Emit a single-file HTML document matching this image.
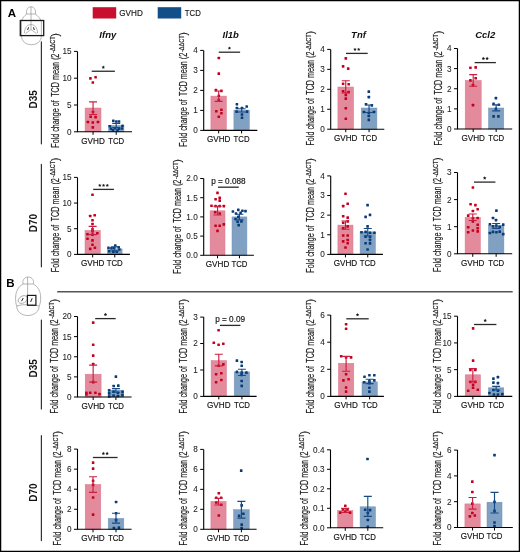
<!DOCTYPE html><html><head><meta charset="utf-8"><style>html,body{margin:0;padding:0;background:#fff}svg{display:block;will-change:transform}text{font-family:"Liberation Sans",sans-serif}.tk{font-size:8.2px;fill:#1a1a1a;stroke:#1a1a1a;stroke-width:0.06px}.xl{font-size:8.8px;fill:#111;stroke:#111;stroke-width:0.15px}.yl{font-size:10px;fill:#1a1a1a;stroke:#1a1a1a;stroke-width:0.18px}.sup{font-size:6.8px}.st{font-size:9.5px;fill:#222;stroke:#222;stroke-width:0.2px}.pv{font-size:8.2px;fill:#111;stroke:#111;stroke-width:0.15px}.ti{font-size:9.5px;font-weight:bold;font-style:italic;fill:#111}.lab{font-size:11.5px;font-weight:bold;fill:#000}.day{font-size:10px;font-weight:bold;fill:#111}.lg{font-size:8.8px;fill:#111;stroke:#111;stroke-width:0.12px}</style></head><body>
<svg width="520" height="552" viewBox="0 0 520 552">
<rect x="0" y="0" width="520" height="552" fill="#fff"/>
<rect x="0.6" y="0.6" width="518.8" height="550.8" fill="none" stroke="#000" stroke-width="1.3"/>
<text x="7.8" y="17.1" class="lab">A</text>
<text x="6.2" y="287.3" class="lab">B</text>
<rect x="92.7" y="7.2" width="23.5" height="11.3" fill="#c8102e"/>
<text x="119.3" y="15.9" class="lg" textLength="23.5" lengthAdjust="spacingAndGlyphs">GVHD</text>
<rect x="157.7" y="7.2" width="23.5" height="11.3" fill="#124e88"/>
<text x="184.8" y="15.9" class="lg" textLength="16" lengthAdjust="spacingAndGlyphs">TCD</text>
<path d="M41.4 41.9V143.8" stroke="#333" stroke-width="1.2" stroke-linecap="round"/>
<path d="M41.4 164.4V266.8" stroke="#333" stroke-width="1.2" stroke-linecap="round"/>
<path d="M41.4 320V408.9" stroke="#333" stroke-width="1.2" stroke-linecap="round"/>
<path d="M41.4 435.7V540.6" stroke="#333" stroke-width="1.2" stroke-linecap="round"/>
<text transform="translate(36.5 99.25) rotate(-90)" text-anchor="middle" class="day">D35</text>
<text transform="translate(36.5 223.1) rotate(-90)" text-anchor="middle" class="day">D70</text>
<text transform="translate(36.5 368.4) rotate(-90)" text-anchor="middle" class="day">D35</text>
<text transform="translate(36.5 492.5) rotate(-90)" text-anchor="middle" class="day">D70</text>
<path d="M57.2 291.8H512.7" stroke="#555" stroke-width="1.4"/>
<g fill="none" stroke="#8c8c8c" stroke-width="0.65"><path d="M26.8 14C25.8 11.5 27 6.8 31 6.8C35 6.8 36.2 11.5 35.2 14Z"/><path d="M31 6.8V29.5"/><path d="M26.8 14C24.5 15.5 21.8 18.5 21.5 22V35.6M35.2 14C37.5 15.5 40.7 18.5 41.4 22V35.6"/><path d="M21.5 35.6C21.5 41.5 26 44.7 31.5 44.7C37 44.7 41.4 41.5 41.4 35.6"/><path d="M24.5 33.2C24.5 27.5 27.5 24.6 31 24.6C34.5 24.6 37.5 27.5 37.5 33.2"/><path d="M25.5 33.5L31 29.5L36.5 33.5"/></g>
<path d="M27.6 30L28.6 27.3M34.4 30L33.4 27.3" stroke="#222" stroke-width="1"/>
<rect x="20.3" y="20.5" width="23.4" height="15.1" fill="none" stroke="#1a1a1a" stroke-width="1.3"/>
<g fill="none" stroke="#8c8c8c" stroke-width="0.65"><path d="M23.2 284C22 281 24 277 28.2 277C32.4 277 34.4 281 33.2 284Z"/><path d="M27.6 277V305.3"/><path d="M23.2 284C18 286.5 15.6 292 15.6 298C15.6 302 16 304.5 16.8 306M33.2 284C38.4 286.5 40.7 292 40.7 298C40.7 302 40 304.5 39.1 306"/><path d="M16.8 306C16.5 311.5 21.5 315.5 27.8 315.5C34 315.5 39.4 311.5 39.1 306"/><path d="M16.8 306Q22 304.2 27.6 304.7Q34 304.5 39.1 306"/><ellipse cx="22.8" cy="299.5" rx="5" ry="3.4" transform="rotate(-30 22.8 299.5)"/></g>
<path d="M21.6 301.2L23.2 298M30.6 302L32.2 298.2" stroke="#222" stroke-width="1"/>
<rect x="27.4" y="295.4" width="8.5" height="9.9" fill="none" stroke="#1a1a1a" stroke-width="1.2"/>
<rect x="85.1" y="108" width="15.90" height="23.80" fill="#e38a9c" stroke="#dc7890" stroke-width="0.5"/>
<rect x="108.5" y="125.5" width="15.40" height="6.30" fill="#80a1c2" stroke="#7193b9" stroke-width="0.5"/>
<rect x="89.10" y="77.10" width="2.6" height="2.6" rx="0.5" fill="#c4001e"/>
<rect x="94.30" y="76.00" width="2.6" height="2.6" rx="0.5" fill="#c4001e"/>
<rect x="91.50" y="81.20" width="2.6" height="2.6" rx="0.5" fill="#c4001e"/>
<rect x="89.40" y="115.50" width="2.6" height="2.6" rx="0.5" fill="#c4001e"/>
<rect x="94.30" y="115.80" width="2.6" height="2.6" rx="0.5" fill="#c4001e"/>
<rect x="86.60" y="120.70" width="2.6" height="2.6" rx="0.5" fill="#c4001e"/>
<rect x="91.50" y="121.20" width="2.6" height="2.6" rx="0.5" fill="#c4001e"/>
<rect x="96.70" y="120.70" width="2.6" height="2.6" rx="0.5" fill="#c4001e"/>
<rect x="91.50" y="126.10" width="2.6" height="2.6" rx="0.5" fill="#c4001e"/>
<rect x="91.70" y="110.70" width="2.6" height="2.6" rx="0.5" fill="#c4001e"/>
<rect x="112.00" y="119.50" width="2.6" height="2.6" rx="0.5" fill="#083b78"/>
<rect x="115.00" y="120.20" width="2.6" height="2.6" rx="0.5" fill="#083b78"/>
<rect x="117.70" y="120.20" width="2.6" height="2.6" rx="0.5" fill="#083b78"/>
<rect x="108.50" y="124.90" width="2.6" height="2.6" rx="0.5" fill="#083b78"/>
<rect x="121.20" y="124.50" width="2.6" height="2.6" rx="0.5" fill="#083b78"/>
<rect x="109.70" y="127.50" width="2.6" height="2.6" rx="0.5" fill="#083b78"/>
<rect x="113.70" y="126.90" width="2.6" height="2.6" rx="0.5" fill="#083b78"/>
<rect x="117.70" y="127.50" width="2.6" height="2.6" rx="0.5" fill="#083b78"/>
<rect x="120.70" y="127.20" width="2.6" height="2.6" rx="0.5" fill="#083b78"/>
<rect x="111.70" y="128.90" width="2.6" height="2.6" rx="0.5" fill="#083b78"/>
<rect x="116.20" y="129.00" width="2.6" height="2.6" rx="0.5" fill="#083b78"/>
<path d="M89.05 101.8H97.05M93.05 101.8V114.5M89.05 114.5H97.05" stroke="#cc1f40" stroke-width="1.15" fill="none"/>
<path d="M112.20 123.3H120.20M116.20 123.3V127.6M112.20 127.6H120.20" stroke="#164a86" stroke-width="1.15" fill="none"/>
<path d="M77.5 51.4V131.8H132" stroke="#000" stroke-width="1.1" fill="none"/>
<path d="M74.0 131.80H77.5" stroke="#000" stroke-width="1"/>
<text x="71.5" y="134.70" text-anchor="end" class="tk">0</text>
<path d="M74.0 105.00H77.5" stroke="#000" stroke-width="1"/>
<text x="71.5" y="107.90" text-anchor="end" class="tk">5</text>
<path d="M74.0 78.20H77.5" stroke="#000" stroke-width="1"/>
<text x="71.5" y="81.10" text-anchor="end" class="tk">10</text>
<path d="M74.0 51.40H77.5" stroke="#000" stroke-width="1"/>
<text x="71.5" y="54.30" text-anchor="end" class="tk">15</text>
<path d="M93.05 131.8V134.8" stroke="#000" stroke-width="1"/>
<path d="M116.20 131.8V134.8" stroke="#000" stroke-width="1"/>
<text x="93.05" y="143.70" text-anchor="middle" class="xl" textLength="23.5" lengthAdjust="spacingAndGlyphs">GVHD</text>
<text x="116.20" y="143.70" text-anchor="middle" class="xl" textLength="16" lengthAdjust="spacingAndGlyphs">TCD</text>
<path d="M91.7 71.25H114.9" stroke="#2a2a2a" stroke-width="1.3"/>
<polygon points="103.30,65.50 103.83,66.52 104.96,66.71 104.16,67.53 104.33,68.67 103.30,68.15 102.27,68.67 102.44,67.53 101.64,66.71 102.77,66.52" fill="#1a1a1a"/>
<text x="107.8" y="37.7" text-anchor="middle" class="ti">Ifny</text>
<text transform="translate(58.7 147.7) rotate(-90)" class="yl"><tspan textLength="94" lengthAdjust="spacingAndGlyphs">Fold change of  TCD mean (2</tspan><tspan class="sup" dx="0.8" dy="-3.3" textLength="16.5" lengthAdjust="spacingAndGlyphs">-ΔΔCT</tspan><tspan dy="3.3">)</tspan></text>
<rect x="210.9" y="96.1" width="15.50" height="34.30" fill="#e38a9c" stroke="#dc7890" stroke-width="0.5"/>
<rect x="233.9" y="110.1" width="15.40" height="20.30" fill="#80a1c2" stroke="#7193b9" stroke-width="0.5"/>
<rect x="217.50" y="56.70" width="2.6" height="2.6" rx="0.5" fill="#c4001e"/>
<rect x="217.50" y="72.30" width="2.6" height="2.6" rx="0.5" fill="#c4001e"/>
<rect x="214.60" y="88.80" width="2.6" height="2.6" rx="0.5" fill="#c4001e"/>
<rect x="220.10" y="89.60" width="2.6" height="2.6" rx="0.5" fill="#c4001e"/>
<rect x="217.50" y="94.40" width="2.6" height="2.6" rx="0.5" fill="#c4001e"/>
<rect x="217.50" y="98.70" width="2.6" height="2.6" rx="0.5" fill="#c4001e"/>
<rect x="215.00" y="110.00" width="2.6" height="2.6" rx="0.5" fill="#c4001e"/>
<rect x="220.10" y="108.40" width="2.6" height="2.6" rx="0.5" fill="#c4001e"/>
<rect x="220.10" y="112.00" width="2.6" height="2.6" rx="0.5" fill="#c4001e"/>
<rect x="217.50" y="115.40" width="2.6" height="2.6" rx="0.5" fill="#c4001e"/>
<rect x="235.60" y="103.00" width="2.6" height="2.6" rx="0.5" fill="#083b78"/>
<rect x="235.60" y="106.70" width="2.6" height="2.6" rx="0.5" fill="#083b78"/>
<rect x="240.70" y="106.70" width="2.6" height="2.6" rx="0.5" fill="#083b78"/>
<rect x="245.40" y="105.20" width="2.6" height="2.6" rx="0.5" fill="#083b78"/>
<rect x="235.30" y="110.30" width="2.6" height="2.6" rx="0.5" fill="#083b78"/>
<rect x="245.70" y="110.30" width="2.6" height="2.6" rx="0.5" fill="#083b78"/>
<rect x="240.70" y="113.20" width="2.6" height="2.6" rx="0.5" fill="#083b78"/>
<rect x="240.70" y="116.50" width="2.6" height="2.6" rx="0.5" fill="#083b78"/>
<path d="M214.65 91H222.65M218.65 91V101.4M214.65 101.4H222.65" stroke="#cc1f40" stroke-width="1.15" fill="none"/>
<path d="M237.60 108.7H245.60M241.60 108.7V112M237.60 112H245.60" stroke="#164a86" stroke-width="1.15" fill="none"/>
<path d="M203.7 50.4V130.4H257.3" stroke="#000" stroke-width="1.1" fill="none"/>
<path d="M200.2 130.40H203.7" stroke="#000" stroke-width="1"/>
<text x="197.7" y="133.30" text-anchor="end" class="tk">0</text>
<path d="M200.2 110.40H203.7" stroke="#000" stroke-width="1"/>
<text x="197.7" y="113.30" text-anchor="end" class="tk">1</text>
<path d="M200.2 90.40H203.7" stroke="#000" stroke-width="1"/>
<text x="197.7" y="93.30" text-anchor="end" class="tk">2</text>
<path d="M200.2 70.40H203.7" stroke="#000" stroke-width="1"/>
<text x="197.7" y="73.30" text-anchor="end" class="tk">3</text>
<path d="M200.2 50.40H203.7" stroke="#000" stroke-width="1"/>
<text x="197.7" y="53.30" text-anchor="end" class="tk">4</text>
<path d="M218.65 130.4V133.4" stroke="#000" stroke-width="1"/>
<path d="M241.60 130.4V133.4" stroke="#000" stroke-width="1"/>
<text x="218.65" y="142.30" text-anchor="middle" class="xl" textLength="23.5" lengthAdjust="spacingAndGlyphs">GVHD</text>
<text x="241.60" y="142.30" text-anchor="middle" class="xl" textLength="16" lengthAdjust="spacingAndGlyphs">TCD</text>
<path d="M218.75 52.2H240.1" stroke="#2a2a2a" stroke-width="1.3"/>
<polygon points="229.43,46.45 229.95,47.47 231.09,47.66 230.28,48.48 230.45,49.62 229.43,49.10 228.40,49.62 228.57,48.48 227.76,47.66 228.90,47.47" fill="#1a1a1a"/>
<text x="230.7" y="37.7" text-anchor="middle" class="ti">Il1b</text>
<text transform="translate(187 146.8) rotate(-90)" class="yl"><tspan textLength="94" lengthAdjust="spacingAndGlyphs">Fold change of  TCD mean (2</tspan><tspan class="sup" dx="0.8" dy="-3.3" textLength="16.5" lengthAdjust="spacingAndGlyphs">-ΔΔCT</tspan><tspan dy="3.3">)</tspan></text>
<rect x="337.9" y="87" width="15.70" height="42.20" fill="#e38a9c" stroke="#dc7890" stroke-width="0.5"/>
<rect x="361.2" y="108" width="15.70" height="21.20" fill="#80a1c2" stroke="#7193b9" stroke-width="0.5"/>
<rect x="344.50" y="57.10" width="2.6" height="2.6" rx="0.5" fill="#c4001e"/>
<rect x="341.80" y="65.10" width="2.6" height="2.6" rx="0.5" fill="#c4001e"/>
<rect x="346.90" y="67.30" width="2.6" height="2.6" rx="0.5" fill="#c4001e"/>
<rect x="341.80" y="82.50" width="2.6" height="2.6" rx="0.5" fill="#c4001e"/>
<rect x="347.40" y="83.00" width="2.6" height="2.6" rx="0.5" fill="#c4001e"/>
<rect x="341.80" y="90.00" width="2.6" height="2.6" rx="0.5" fill="#c4001e"/>
<rect x="347.40" y="90.70" width="2.6" height="2.6" rx="0.5" fill="#c4001e"/>
<rect x="344.50" y="93.60" width="2.6" height="2.6" rx="0.5" fill="#c4001e"/>
<rect x="344.50" y="97.30" width="2.6" height="2.6" rx="0.5" fill="#c4001e"/>
<rect x="344.50" y="107.00" width="2.6" height="2.6" rx="0.5" fill="#c4001e"/>
<rect x="344.50" y="117.50" width="2.6" height="2.6" rx="0.5" fill="#c4001e"/>
<rect x="367.50" y="90.30" width="2.6" height="2.6" rx="0.5" fill="#083b78"/>
<rect x="367.50" y="95.80" width="2.6" height="2.6" rx="0.5" fill="#083b78"/>
<rect x="364.70" y="103.00" width="2.6" height="2.6" rx="0.5" fill="#083b78"/>
<rect x="370.50" y="104.10" width="2.6" height="2.6" rx="0.5" fill="#083b78"/>
<rect x="362.60" y="110.70" width="2.6" height="2.6" rx="0.5" fill="#083b78"/>
<rect x="372.70" y="110.70" width="2.6" height="2.6" rx="0.5" fill="#083b78"/>
<rect x="367.50" y="111.70" width="2.6" height="2.6" rx="0.5" fill="#083b78"/>
<rect x="367.50" y="114.70" width="2.6" height="2.6" rx="0.5" fill="#083b78"/>
<rect x="367.50" y="118.60" width="2.6" height="2.6" rx="0.5" fill="#083b78"/>
<path d="M341.75 80.7H349.75M345.75 80.7V92.9M341.75 92.9H349.75" stroke="#cc1f40" stroke-width="1.15" fill="none"/>
<path d="M365.05 105H373.05M369.05 105V112.5M365.05 112.5H373.05" stroke="#164a86" stroke-width="1.15" fill="none"/>
<path d="M330.7 49.4V129.2H384.3" stroke="#000" stroke-width="1.1" fill="none"/>
<path d="M327.2 129.20H330.7" stroke="#000" stroke-width="1"/>
<text x="324.7" y="132.10" text-anchor="end" class="tk">0</text>
<path d="M327.2 109.25H330.7" stroke="#000" stroke-width="1"/>
<text x="324.7" y="112.15" text-anchor="end" class="tk">1</text>
<path d="M327.2 89.30H330.7" stroke="#000" stroke-width="1"/>
<text x="324.7" y="92.20" text-anchor="end" class="tk">2</text>
<path d="M327.2 69.35H330.7" stroke="#000" stroke-width="1"/>
<text x="324.7" y="72.25" text-anchor="end" class="tk">3</text>
<path d="M327.2 49.40H330.7" stroke="#000" stroke-width="1"/>
<text x="324.7" y="52.30" text-anchor="end" class="tk">4</text>
<path d="M345.75 129.2V132.2" stroke="#000" stroke-width="1"/>
<path d="M369.05 129.2V132.2" stroke="#000" stroke-width="1"/>
<text x="345.75" y="141.10" text-anchor="middle" class="xl" textLength="23.5" lengthAdjust="spacingAndGlyphs">GVHD</text>
<text x="369.05" y="141.10" text-anchor="middle" class="xl" textLength="16" lengthAdjust="spacingAndGlyphs">TCD</text>
<path d="M346 53.4H367.7" stroke="#2a2a2a" stroke-width="1.3"/>
<polygon points="354.98,47.65 355.50,48.67 356.64,48.86 355.83,49.68 356.00,50.82 354.98,50.30 353.95,50.82 354.12,49.68 353.31,48.86 354.45,48.67" fill="#1a1a1a"/>
<polygon points="358.73,47.65 359.25,48.67 360.39,48.86 359.58,49.68 359.75,50.82 358.73,50.30 357.70,50.82 357.87,49.68 357.06,48.86 358.20,48.67" fill="#1a1a1a"/>
<text x="358.5" y="37.7" text-anchor="middle" class="ti">Tnf</text>
<text transform="translate(314.4 145.6) rotate(-90)" class="yl"><tspan textLength="94" lengthAdjust="spacingAndGlyphs">Fold change of  TCD mean (2</tspan><tspan class="sup" dx="0.8" dy="-3.3" textLength="16.5" lengthAdjust="spacingAndGlyphs">-ΔΔCT</tspan><tspan dy="3.3">)</tspan></text>
<rect x="465.2" y="80.4" width="16.00" height="48.60" fill="#e38a9c" stroke="#dc7890" stroke-width="0.5"/>
<rect x="488.5" y="108" width="15.30" height="21.00" fill="#80a1c2" stroke="#7193b9" stroke-width="0.5"/>
<rect x="469.10" y="66.40" width="2.6" height="2.6" rx="0.5" fill="#c4001e"/>
<rect x="474.40" y="66.10" width="2.6" height="2.6" rx="0.5" fill="#c4001e"/>
<rect x="469.10" y="79.10" width="2.6" height="2.6" rx="0.5" fill="#c4001e"/>
<rect x="474.40" y="77.00" width="2.6" height="2.6" rx="0.5" fill="#c4001e"/>
<rect x="471.70" y="83.80" width="2.6" height="2.6" rx="0.5" fill="#c4001e"/>
<rect x="471.70" y="103.80" width="2.6" height="2.6" rx="0.5" fill="#c4001e"/>
<rect x="494.60" y="96.80" width="2.6" height="2.6" rx="0.5" fill="#083b78"/>
<rect x="492.30" y="102.60" width="2.6" height="2.6" rx="0.5" fill="#083b78"/>
<rect x="497.50" y="103.50" width="2.6" height="2.6" rx="0.5" fill="#083b78"/>
<rect x="494.60" y="107.40" width="2.6" height="2.6" rx="0.5" fill="#083b78"/>
<rect x="492.30" y="115.10" width="2.6" height="2.6" rx="0.5" fill="#083b78"/>
<rect x="497.10" y="115.10" width="2.6" height="2.6" rx="0.5" fill="#083b78"/>
<path d="M469.20 74.6H477.20M473.20 74.6V86.2M469.20 86.2H477.20" stroke="#cc1f40" stroke-width="1.15" fill="none"/>
<path d="M492.15 104.8H500.15M496.15 104.8V110.9M492.15 110.9H500.15" stroke="#164a86" stroke-width="1.15" fill="none"/>
<path d="M457.5 48.5V129.0H512.2" stroke="#000" stroke-width="1.1" fill="none"/>
<path d="M454.0 129.00H457.5" stroke="#000" stroke-width="1"/>
<text x="451.5" y="131.90" text-anchor="end" class="tk">0</text>
<path d="M454.0 108.88H457.5" stroke="#000" stroke-width="1"/>
<text x="451.5" y="111.78" text-anchor="end" class="tk">1</text>
<path d="M454.0 88.75H457.5" stroke="#000" stroke-width="1"/>
<text x="451.5" y="91.65" text-anchor="end" class="tk">2</text>
<path d="M454.0 68.62H457.5" stroke="#000" stroke-width="1"/>
<text x="451.5" y="71.53" text-anchor="end" class="tk">3</text>
<path d="M454.0 48.50H457.5" stroke="#000" stroke-width="1"/>
<text x="451.5" y="51.40" text-anchor="end" class="tk">4</text>
<path d="M473.20 129.0V132.0" stroke="#000" stroke-width="1"/>
<path d="M496.15 129.0V132.0" stroke="#000" stroke-width="1"/>
<text x="473.20" y="140.90" text-anchor="middle" class="xl" textLength="23.5" lengthAdjust="spacingAndGlyphs">GVHD</text>
<text x="496.15" y="140.90" text-anchor="middle" class="xl" textLength="16" lengthAdjust="spacingAndGlyphs">TCD</text>
<path d="M474.6 62.6H495.9" stroke="#2a2a2a" stroke-width="1.3"/>
<polygon points="483.38,56.85 483.90,57.87 485.04,58.06 484.23,58.88 484.40,60.02 483.38,59.50 482.35,60.02 482.52,58.88 481.71,58.06 482.85,57.87" fill="#1a1a1a"/>
<polygon points="487.12,56.85 487.65,57.87 488.79,58.06 487.98,58.88 488.15,60.02 487.12,59.50 486.10,60.02 486.27,58.88 485.46,58.06 486.60,57.87" fill="#1a1a1a"/>
<text x="485.2" y="37.7" text-anchor="middle" class="ti">Ccl2</text>
<text transform="translate(441.7 145.4) rotate(-90)" class="yl"><tspan textLength="94" lengthAdjust="spacingAndGlyphs">Fold change of  TCD mean (2</tspan><tspan class="sup" dx="0.8" dy="-3.3" textLength="16.5" lengthAdjust="spacingAndGlyphs">-ΔΔCT</tspan><tspan dy="3.3">)</tspan></text>
<rect x="85" y="230.5" width="15.30" height="23.90" fill="#e38a9c" stroke="#dc7890" stroke-width="0.5"/>
<rect x="107.4" y="248.9" width="14.70" height="5.50" fill="#80a1c2" stroke="#7193b9" stroke-width="0.5"/>
<rect x="91.20" y="193.50" width="2.6" height="2.6" rx="0.5" fill="#c4001e"/>
<rect x="88.90" y="214.70" width="2.6" height="2.6" rx="0.5" fill="#c4001e"/>
<rect x="93.40" y="213.90" width="2.6" height="2.6" rx="0.5" fill="#c4001e"/>
<rect x="91.20" y="219.00" width="2.6" height="2.6" rx="0.5" fill="#c4001e"/>
<rect x="91.20" y="222.70" width="2.6" height="2.6" rx="0.5" fill="#c4001e"/>
<rect x="91.20" y="227.90" width="2.6" height="2.6" rx="0.5" fill="#c4001e"/>
<rect x="86.20" y="232.90" width="2.6" height="2.6" rx="0.5" fill="#c4001e"/>
<rect x="91.20" y="233.30" width="2.6" height="2.6" rx="0.5" fill="#c4001e"/>
<rect x="96.00" y="231.90" width="2.6" height="2.6" rx="0.5" fill="#c4001e"/>
<rect x="86.20" y="237.40" width="2.6" height="2.6" rx="0.5" fill="#c4001e"/>
<rect x="91.20" y="239.10" width="2.6" height="2.6" rx="0.5" fill="#c4001e"/>
<rect x="91.20" y="243.50" width="2.6" height="2.6" rx="0.5" fill="#c4001e"/>
<rect x="88.90" y="247.60" width="2.6" height="2.6" rx="0.5" fill="#c4001e"/>
<rect x="93.60" y="246.50" width="2.6" height="2.6" rx="0.5" fill="#c4001e"/>
<rect x="91.20" y="229.90" width="2.6" height="2.6" rx="0.5" fill="#c4001e"/>
<rect x="114.00" y="244.20" width="2.6" height="2.6" rx="0.5" fill="#083b78"/>
<rect x="107.20" y="246.50" width="2.6" height="2.6" rx="0.5" fill="#083b78"/>
<rect x="110.20" y="246.90" width="2.6" height="2.6" rx="0.5" fill="#083b78"/>
<rect x="112.70" y="246.70" width="2.6" height="2.6" rx="0.5" fill="#083b78"/>
<rect x="117.40" y="245.90" width="2.6" height="2.6" rx="0.5" fill="#083b78"/>
<rect x="118.10" y="248.20" width="2.6" height="2.6" rx="0.5" fill="#083b78"/>
<rect x="107.90" y="250.00" width="2.6" height="2.6" rx="0.5" fill="#083b78"/>
<rect x="112.00" y="250.30" width="2.6" height="2.6" rx="0.5" fill="#083b78"/>
<rect x="115.40" y="250.50" width="2.6" height="2.6" rx="0.5" fill="#083b78"/>
<path d="M88.65 226.4H96.65M92.65 226.4V234.6M88.65 234.6H96.65" stroke="#cc1f40" stroke-width="1.15" fill="none"/>
<path d="M110.75 246.8H118.75M114.75 246.8V251M110.75 251H118.75" stroke="#164a86" stroke-width="1.15" fill="none"/>
<path d="M77.5 177.4V254.4H129.9" stroke="#000" stroke-width="1.1" fill="none"/>
<path d="M74.0 254.40H77.5" stroke="#000" stroke-width="1"/>
<text x="71.5" y="257.30" text-anchor="end" class="tk">0</text>
<path d="M74.0 228.73H77.5" stroke="#000" stroke-width="1"/>
<text x="71.5" y="231.63" text-anchor="end" class="tk">5</text>
<path d="M74.0 203.07H77.5" stroke="#000" stroke-width="1"/>
<text x="71.5" y="205.97" text-anchor="end" class="tk">10</text>
<path d="M74.0 177.40H77.5" stroke="#000" stroke-width="1"/>
<text x="71.5" y="180.30" text-anchor="end" class="tk">15</text>
<path d="M92.65 254.4V257.4" stroke="#000" stroke-width="1"/>
<path d="M114.75 254.4V257.4" stroke="#000" stroke-width="1"/>
<text x="92.65" y="266.30" text-anchor="middle" class="xl" textLength="23.5" lengthAdjust="spacingAndGlyphs">GVHD</text>
<text x="114.75" y="266.30" text-anchor="middle" class="xl" textLength="16" lengthAdjust="spacingAndGlyphs">TCD</text>
<path d="M93.2 189.4H113.9" stroke="#2a2a2a" stroke-width="1.3"/>
<polygon points="99.80,183.65 100.33,184.67 101.46,184.86 100.66,185.68 100.83,186.82 99.80,186.30 98.77,186.82 98.94,185.68 98.14,184.86 99.27,184.67" fill="#1a1a1a"/>
<polygon points="103.55,183.65 104.08,184.67 105.21,184.86 104.41,185.68 104.58,186.82 103.55,186.30 102.52,186.82 102.69,185.68 101.89,184.86 103.02,184.67" fill="#1a1a1a"/>
<polygon points="107.30,183.65 107.83,184.67 108.96,184.86 108.16,185.68 108.33,186.82 107.30,186.30 106.27,186.82 106.44,185.68 105.64,184.86 106.77,184.67" fill="#1a1a1a"/>
<text transform="translate(58.6 272.2) rotate(-90)" class="yl"><tspan textLength="94" lengthAdjust="spacingAndGlyphs">Fold change of  TCD mean (2</tspan><tspan class="sup" dx="0.8" dy="-3.3" textLength="16.5" lengthAdjust="spacingAndGlyphs">-ΔΔCT</tspan><tspan dy="3.3">)</tspan></text>
<rect x="210.1" y="210.8" width="14.90" height="44.50" fill="#e38a9c" stroke="#dc7890" stroke-width="0.5"/>
<rect x="232" y="216.9" width="14.90" height="38.40" fill="#80a1c2" stroke="#7193b9" stroke-width="0.5"/>
<rect x="216.20" y="191.60" width="2.6" height="2.6" rx="0.5" fill="#c4001e"/>
<rect x="214.30" y="198.00" width="2.6" height="2.6" rx="0.5" fill="#c4001e"/>
<rect x="218.40" y="196.60" width="2.6" height="2.6" rx="0.5" fill="#c4001e"/>
<rect x="218.40" y="199.30" width="2.6" height="2.6" rx="0.5" fill="#c4001e"/>
<rect x="210.20" y="204.40" width="2.6" height="2.6" rx="0.5" fill="#c4001e"/>
<rect x="214.30" y="204.80" width="2.6" height="2.6" rx="0.5" fill="#c4001e"/>
<rect x="218.40" y="204.80" width="2.6" height="2.6" rx="0.5" fill="#c4001e"/>
<rect x="222.50" y="204.80" width="2.6" height="2.6" rx="0.5" fill="#c4001e"/>
<rect x="213.90" y="210.90" width="2.6" height="2.6" rx="0.5" fill="#c4001e"/>
<rect x="218.40" y="212.20" width="2.6" height="2.6" rx="0.5" fill="#c4001e"/>
<rect x="214.30" y="224.50" width="2.6" height="2.6" rx="0.5" fill="#c4001e"/>
<rect x="218.40" y="224.50" width="2.6" height="2.6" rx="0.5" fill="#c4001e"/>
<rect x="222.50" y="223.10" width="2.6" height="2.6" rx="0.5" fill="#c4001e"/>
<rect x="216.20" y="229.60" width="2.6" height="2.6" rx="0.5" fill="#c4001e"/>
<rect x="231.60" y="210.20" width="2.6" height="2.6" rx="0.5" fill="#083b78"/>
<rect x="237.00" y="208.60" width="2.6" height="2.6" rx="0.5" fill="#083b78"/>
<rect x="241.10" y="209.50" width="2.6" height="2.6" rx="0.5" fill="#083b78"/>
<rect x="244.20" y="209.80" width="2.6" height="2.6" rx="0.5" fill="#083b78"/>
<rect x="234.70" y="212.20" width="2.6" height="2.6" rx="0.5" fill="#083b78"/>
<rect x="239.30" y="211.60" width="2.6" height="2.6" rx="0.5" fill="#083b78"/>
<rect x="237.00" y="215.60" width="2.6" height="2.6" rx="0.5" fill="#083b78"/>
<rect x="236.30" y="220.40" width="2.6" height="2.6" rx="0.5" fill="#083b78"/>
<rect x="240.10" y="220.10" width="2.6" height="2.6" rx="0.5" fill="#083b78"/>
<rect x="237.40" y="223.80" width="2.6" height="2.6" rx="0.5" fill="#083b78"/>
<rect x="234.20" y="217.70" width="2.6" height="2.6" rx="0.5" fill="#083b78"/>
<path d="M213.55 206.3H221.55M217.55 206.3V215M213.55 215H221.55" stroke="#cc1f40" stroke-width="1.15" fill="none"/>
<path d="M235.45 214.2H243.45M239.45 214.2V219.8M235.45 219.8H243.45" stroke="#164a86" stroke-width="1.15" fill="none"/>
<path d="M203.7 178.5V255.3H253.9" stroke="#000" stroke-width="1.1" fill="none"/>
<path d="M200.2 255.30H203.7" stroke="#000" stroke-width="1"/>
<text x="197.7" y="258.20" text-anchor="end" class="tk">0.0</text>
<path d="M200.2 236.10H203.7" stroke="#000" stroke-width="1"/>
<text x="197.7" y="239.00" text-anchor="end" class="tk">0.5</text>
<path d="M200.2 216.90H203.7" stroke="#000" stroke-width="1"/>
<text x="197.7" y="219.80" text-anchor="end" class="tk">1.0</text>
<path d="M200.2 197.70H203.7" stroke="#000" stroke-width="1"/>
<text x="197.7" y="200.60" text-anchor="end" class="tk">1.5</text>
<path d="M200.2 178.50H203.7" stroke="#000" stroke-width="1"/>
<text x="197.7" y="181.40" text-anchor="end" class="tk">2.0</text>
<path d="M217.55 255.3V258.3" stroke="#000" stroke-width="1"/>
<path d="M239.45 255.3V258.3" stroke="#000" stroke-width="1"/>
<text x="217.55" y="267.20" text-anchor="middle" class="xl" textLength="23.5" lengthAdjust="spacingAndGlyphs">GVHD</text>
<text x="239.45" y="267.20" text-anchor="middle" class="xl" textLength="16" lengthAdjust="spacingAndGlyphs">TCD</text>
<path d="M218 187.2H238.8" stroke="#2a2a2a" stroke-width="1.3"/>
<text x="228.40" y="184.20" text-anchor="middle" class="pv">p = 0.088</text>
<text transform="translate(180.8 273.7) rotate(-90)" class="yl"><tspan textLength="94" lengthAdjust="spacingAndGlyphs">Fold change of  TCD mean (2</tspan><tspan class="sup" dx="0.8" dy="-3.3" textLength="16.5" lengthAdjust="spacingAndGlyphs">-ΔΔCT</tspan><tspan dy="3.3">)</tspan></text>
<rect x="337.9" y="225.1" width="15.10" height="29.30" fill="#e38a9c" stroke="#dc7890" stroke-width="0.5"/>
<rect x="360.1" y="231.9" width="15.30" height="22.50" fill="#80a1c2" stroke="#7193b9" stroke-width="0.5"/>
<rect x="344.20" y="192.50" width="2.6" height="2.6" rx="0.5" fill="#c4001e"/>
<rect x="341.90" y="204.80" width="2.6" height="2.6" rx="0.5" fill="#c4001e"/>
<rect x="346.40" y="202.50" width="2.6" height="2.6" rx="0.5" fill="#c4001e"/>
<rect x="341.90" y="215.00" width="2.6" height="2.6" rx="0.5" fill="#c4001e"/>
<rect x="346.40" y="216.30" width="2.6" height="2.6" rx="0.5" fill="#c4001e"/>
<rect x="341.90" y="221.50" width="2.6" height="2.6" rx="0.5" fill="#c4001e"/>
<rect x="346.40" y="220.10" width="2.6" height="2.6" rx="0.5" fill="#c4001e"/>
<rect x="346.40" y="225.10" width="2.6" height="2.6" rx="0.5" fill="#c4001e"/>
<rect x="341.90" y="226.90" width="2.6" height="2.6" rx="0.5" fill="#c4001e"/>
<rect x="341.90" y="234.20" width="2.6" height="2.6" rx="0.5" fill="#c4001e"/>
<rect x="346.40" y="234.20" width="2.6" height="2.6" rx="0.5" fill="#c4001e"/>
<rect x="341.90" y="240.10" width="2.6" height="2.6" rx="0.5" fill="#c4001e"/>
<rect x="346.40" y="238.70" width="2.6" height="2.6" rx="0.5" fill="#c4001e"/>
<rect x="346.40" y="241.90" width="2.6" height="2.6" rx="0.5" fill="#c4001e"/>
<rect x="344.20" y="246.20" width="2.6" height="2.6" rx="0.5" fill="#c4001e"/>
<rect x="366.30" y="203.80" width="2.6" height="2.6" rx="0.5" fill="#083b78"/>
<rect x="364.30" y="215.60" width="2.6" height="2.6" rx="0.5" fill="#083b78"/>
<rect x="368.70" y="213.60" width="2.6" height="2.6" rx="0.5" fill="#083b78"/>
<rect x="366.30" y="225.10" width="2.6" height="2.6" rx="0.5" fill="#083b78"/>
<rect x="360.20" y="231.00" width="2.6" height="2.6" rx="0.5" fill="#083b78"/>
<rect x="364.30" y="230.60" width="2.6" height="2.6" rx="0.5" fill="#083b78"/>
<rect x="368.70" y="231.50" width="2.6" height="2.6" rx="0.5" fill="#083b78"/>
<rect x="373.10" y="231.50" width="2.6" height="2.6" rx="0.5" fill="#083b78"/>
<rect x="364.30" y="235.30" width="2.6" height="2.6" rx="0.5" fill="#083b78"/>
<rect x="368.70" y="235.60" width="2.6" height="2.6" rx="0.5" fill="#083b78"/>
<rect x="368.70" y="238.70" width="2.6" height="2.6" rx="0.5" fill="#083b78"/>
<rect x="364.30" y="241.90" width="2.6" height="2.6" rx="0.5" fill="#083b78"/>
<rect x="368.70" y="242.10" width="2.6" height="2.6" rx="0.5" fill="#083b78"/>
<rect x="366.30" y="248.20" width="2.6" height="2.6" rx="0.5" fill="#083b78"/>
<path d="M341.45 221H349.45M345.45 221V229.2M341.45 229.2H349.45" stroke="#cc1f40" stroke-width="1.15" fill="none"/>
<path d="M363.75 228.5H371.75M367.75 228.5V236M363.75 236H371.75" stroke="#164a86" stroke-width="1.15" fill="none"/>
<path d="M330.7 175.9V254.4H382.9" stroke="#000" stroke-width="1.1" fill="none"/>
<path d="M327.2 254.40H330.7" stroke="#000" stroke-width="1"/>
<text x="324.7" y="257.30" text-anchor="end" class="tk">0</text>
<path d="M327.2 234.78H330.7" stroke="#000" stroke-width="1"/>
<text x="324.7" y="237.68" text-anchor="end" class="tk">1</text>
<path d="M327.2 215.15H330.7" stroke="#000" stroke-width="1"/>
<text x="324.7" y="218.05" text-anchor="end" class="tk">2</text>
<path d="M327.2 195.53H330.7" stroke="#000" stroke-width="1"/>
<text x="324.7" y="198.43" text-anchor="end" class="tk">3</text>
<path d="M327.2 175.90H330.7" stroke="#000" stroke-width="1"/>
<text x="324.7" y="178.80" text-anchor="end" class="tk">4</text>
<path d="M345.45 254.4V257.4" stroke="#000" stroke-width="1"/>
<path d="M367.75 254.4V257.4" stroke="#000" stroke-width="1"/>
<text x="345.45" y="266.30" text-anchor="middle" class="xl" textLength="23.5" lengthAdjust="spacingAndGlyphs">GVHD</text>
<text x="367.75" y="266.30" text-anchor="middle" class="xl" textLength="16" lengthAdjust="spacingAndGlyphs">TCD</text>
<text transform="translate(313.9 272.7) rotate(-90)" class="yl"><tspan textLength="94" lengthAdjust="spacingAndGlyphs">Fold change of  TCD mean (2</tspan><tspan class="sup" dx="0.8" dy="-3.3" textLength="16.5" lengthAdjust="spacingAndGlyphs">-ΔΔCT</tspan><tspan dy="3.3">)</tspan></text>
<rect x="465.1" y="217.4" width="15.30" height="36.40" fill="#e38a9c" stroke="#dc7890" stroke-width="0.5"/>
<rect x="488.4" y="225.5" width="15.50" height="28.30" fill="#80a1c2" stroke="#7193b9" stroke-width="0.5"/>
<rect x="471.60" y="186.20" width="2.6" height="2.6" rx="0.5" fill="#c4001e"/>
<rect x="469.30" y="202.90" width="2.6" height="2.6" rx="0.5" fill="#c4001e"/>
<rect x="474.10" y="203.80" width="2.6" height="2.6" rx="0.5" fill="#c4001e"/>
<rect x="471.60" y="209.70" width="2.6" height="2.6" rx="0.5" fill="#c4001e"/>
<rect x="476.40" y="207.90" width="2.6" height="2.6" rx="0.5" fill="#c4001e"/>
<rect x="466.90" y="214.30" width="2.6" height="2.6" rx="0.5" fill="#c4001e"/>
<rect x="471.60" y="217.00" width="2.6" height="2.6" rx="0.5" fill="#c4001e"/>
<rect x="476.40" y="216.70" width="2.6" height="2.6" rx="0.5" fill="#c4001e"/>
<rect x="471.60" y="220.10" width="2.6" height="2.6" rx="0.5" fill="#c4001e"/>
<rect x="476.40" y="223.50" width="2.6" height="2.6" rx="0.5" fill="#c4001e"/>
<rect x="466.90" y="226.00" width="2.6" height="2.6" rx="0.5" fill="#c4001e"/>
<rect x="476.40" y="226.90" width="2.6" height="2.6" rx="0.5" fill="#c4001e"/>
<rect x="471.60" y="229.20" width="2.6" height="2.6" rx="0.5" fill="#c4001e"/>
<rect x="466.90" y="231.00" width="2.6" height="2.6" rx="0.5" fill="#c4001e"/>
<rect x="476.40" y="230.10" width="2.6" height="2.6" rx="0.5" fill="#c4001e"/>
<rect x="495.10" y="209.30" width="2.6" height="2.6" rx="0.5" fill="#083b78"/>
<rect x="491.70" y="216.70" width="2.6" height="2.6" rx="0.5" fill="#083b78"/>
<rect x="494.70" y="218.80" width="2.6" height="2.6" rx="0.5" fill="#083b78"/>
<rect x="488.60" y="222.90" width="2.6" height="2.6" rx="0.5" fill="#083b78"/>
<rect x="491.70" y="224.90" width="2.6" height="2.6" rx="0.5" fill="#083b78"/>
<rect x="495.10" y="224.20" width="2.6" height="2.6" rx="0.5" fill="#083b78"/>
<rect x="498.40" y="225.60" width="2.6" height="2.6" rx="0.5" fill="#083b78"/>
<rect x="501.90" y="223.30" width="2.6" height="2.6" rx="0.5" fill="#083b78"/>
<rect x="488.60" y="231.70" width="2.6" height="2.6" rx="0.5" fill="#083b78"/>
<rect x="491.70" y="230.60" width="2.6" height="2.6" rx="0.5" fill="#083b78"/>
<rect x="495.10" y="231.00" width="2.6" height="2.6" rx="0.5" fill="#083b78"/>
<rect x="498.40" y="230.30" width="2.6" height="2.6" rx="0.5" fill="#083b78"/>
<rect x="501.90" y="232.80" width="2.6" height="2.6" rx="0.5" fill="#083b78"/>
<path d="M468.75 214H476.75M472.75 214V220.5M468.75 220.5H476.75" stroke="#cc1f40" stroke-width="1.15" fill="none"/>
<path d="M492.15 223.5H500.15M496.15 223.5V228.3M492.15 228.3H500.15" stroke="#164a86" stroke-width="1.15" fill="none"/>
<path d="M457.5 172.5V253.8H512.2" stroke="#000" stroke-width="1.1" fill="none"/>
<path d="M454.0 253.80H457.5" stroke="#000" stroke-width="1"/>
<text x="451.5" y="256.70" text-anchor="end" class="tk">0</text>
<path d="M454.0 226.70H457.5" stroke="#000" stroke-width="1"/>
<text x="451.5" y="229.60" text-anchor="end" class="tk">1</text>
<path d="M454.0 199.60H457.5" stroke="#000" stroke-width="1"/>
<text x="451.5" y="202.50" text-anchor="end" class="tk">2</text>
<path d="M454.0 172.50H457.5" stroke="#000" stroke-width="1"/>
<text x="451.5" y="175.40" text-anchor="end" class="tk">3</text>
<path d="M472.75 253.8V256.8" stroke="#000" stroke-width="1"/>
<path d="M496.15 253.8V256.8" stroke="#000" stroke-width="1"/>
<text x="472.75" y="265.70" text-anchor="middle" class="xl" textLength="23.5" lengthAdjust="spacingAndGlyphs">GVHD</text>
<text x="496.15" y="265.70" text-anchor="middle" class="xl" textLength="16" lengthAdjust="spacingAndGlyphs">TCD</text>
<path d="M474 182.1H495.4" stroke="#2a2a2a" stroke-width="1.3"/>
<polygon points="484.70,176.35 485.23,177.37 486.36,177.56 485.56,178.38 485.73,179.52 484.70,179.00 483.67,179.52 483.84,178.38 483.04,177.56 484.17,177.37" fill="#1a1a1a"/>
<text transform="translate(441.4 272) rotate(-90)" class="yl"><tspan textLength="94" lengthAdjust="spacingAndGlyphs">Fold change of  TCD mean (2</tspan><tspan class="sup" dx="0.8" dy="-3.3" textLength="16.5" lengthAdjust="spacingAndGlyphs">-ΔΔCT</tspan><tspan dy="3.3">)</tspan></text>
<rect x="85.2" y="374.2" width="15.90" height="22.80" fill="#e38a9c" stroke="#dc7890" stroke-width="0.5"/>
<rect x="108.1" y="390.2" width="15.60" height="6.80" fill="#80a1c2" stroke="#7193b9" stroke-width="0.5"/>
<rect x="91.90" y="321.30" width="2.6" height="2.6" rx="0.5" fill="#c4001e"/>
<rect x="91.90" y="343.50" width="2.6" height="2.6" rx="0.5" fill="#c4001e"/>
<rect x="91.90" y="354.30" width="2.6" height="2.6" rx="0.5" fill="#c4001e"/>
<rect x="91.90" y="362.70" width="2.6" height="2.6" rx="0.5" fill="#c4001e"/>
<rect x="91.90" y="380.80" width="2.6" height="2.6" rx="0.5" fill="#c4001e"/>
<rect x="85.10" y="391.40" width="2.6" height="2.6" rx="0.5" fill="#c4001e"/>
<rect x="88.90" y="391.40" width="2.6" height="2.6" rx="0.5" fill="#c4001e"/>
<rect x="94.10" y="391.40" width="2.6" height="2.6" rx="0.5" fill="#c4001e"/>
<rect x="98.20" y="392.80" width="2.6" height="2.6" rx="0.5" fill="#c4001e"/>
<rect x="85.10" y="393.20" width="2.6" height="2.6" rx="0.5" fill="#c4001e"/>
<rect x="114.60" y="375.30" width="2.6" height="2.6" rx="0.5" fill="#083b78"/>
<rect x="112.40" y="384.70" width="2.6" height="2.6" rx="0.5" fill="#083b78"/>
<rect x="117.00" y="384.30" width="2.6" height="2.6" rx="0.5" fill="#083b78"/>
<rect x="107.90" y="389.00" width="2.6" height="2.6" rx="0.5" fill="#083b78"/>
<rect x="107.90" y="392.10" width="2.6" height="2.6" rx="0.5" fill="#083b78"/>
<rect x="107.90" y="395.20" width="2.6" height="2.6" rx="0.5" fill="#083b78"/>
<rect x="112.30" y="390.30" width="2.6" height="2.6" rx="0.5" fill="#083b78"/>
<rect x="116.60" y="391.50" width="2.6" height="2.6" rx="0.5" fill="#083b78"/>
<rect x="121.20" y="390.60" width="2.6" height="2.6" rx="0.5" fill="#083b78"/>
<rect x="121.20" y="393.80" width="2.6" height="2.6" rx="0.5" fill="#083b78"/>
<rect x="116.60" y="394.70" width="2.6" height="2.6" rx="0.5" fill="#083b78"/>
<rect x="112.30" y="394.20" width="2.6" height="2.6" rx="0.5" fill="#083b78"/>
<path d="M89.15 365.1H97.15M93.15 365.1V382.1M89.15 382.1H97.15" stroke="#cc1f40" stroke-width="1.15" fill="none"/>
<path d="M111.90 388.6H119.90M115.90 388.6V392.2M111.90 392.2H119.90" stroke="#164a86" stroke-width="1.15" fill="none"/>
<path d="M77.5 316.5V397.0H131.6" stroke="#000" stroke-width="1.1" fill="none"/>
<path d="M74.0 397.00H77.5" stroke="#000" stroke-width="1"/>
<text x="71.5" y="399.90" text-anchor="end" class="tk">0</text>
<path d="M74.0 376.88H77.5" stroke="#000" stroke-width="1"/>
<text x="71.5" y="379.77" text-anchor="end" class="tk">5</text>
<path d="M74.0 356.75H77.5" stroke="#000" stroke-width="1"/>
<text x="71.5" y="359.65" text-anchor="end" class="tk">10</text>
<path d="M74.0 336.62H77.5" stroke="#000" stroke-width="1"/>
<text x="71.5" y="339.52" text-anchor="end" class="tk">15</text>
<path d="M74.0 316.50H77.5" stroke="#000" stroke-width="1"/>
<text x="71.5" y="319.40" text-anchor="end" class="tk">20</text>
<path d="M93.15 397.0V400.0" stroke="#000" stroke-width="1"/>
<path d="M115.90 397.0V400.0" stroke="#000" stroke-width="1"/>
<text x="93.15" y="408.90" text-anchor="middle" class="xl" textLength="23.5" lengthAdjust="spacingAndGlyphs">GVHD</text>
<text x="115.90" y="408.90" text-anchor="middle" class="xl" textLength="16" lengthAdjust="spacingAndGlyphs">TCD</text>
<path d="M95.2 318.6H115.7" stroke="#2a2a2a" stroke-width="1.3"/>
<polygon points="105.45,312.85 105.98,313.87 107.11,314.06 106.31,314.88 106.48,316.02 105.45,315.50 104.42,316.02 104.59,314.88 103.79,314.06 104.92,313.87" fill="#1a1a1a"/>
<text transform="translate(57.5 413.5) rotate(-90)" class="yl"><tspan textLength="94" lengthAdjust="spacingAndGlyphs">Fold change of  TCD mean (2</tspan><tspan class="sup" dx="0.8" dy="-3.3" textLength="16.5" lengthAdjust="spacingAndGlyphs">-ΔΔCT</tspan><tspan dy="3.3">)</tspan></text>
<rect x="211.1" y="360.6" width="15.40" height="35.80" fill="#e38a9c" stroke="#dc7890" stroke-width="0.5"/>
<rect x="234.2" y="371.9" width="15.40" height="24.50" fill="#80a1c2" stroke="#7193b9" stroke-width="0.5"/>
<rect x="217.30" y="328.90" width="2.6" height="2.6" rx="0.5" fill="#c4001e"/>
<rect x="212.50" y="341.40" width="2.6" height="2.6" rx="0.5" fill="#c4001e"/>
<rect x="217.30" y="343.40" width="2.6" height="2.6" rx="0.5" fill="#c4001e"/>
<rect x="222.00" y="342.50" width="2.6" height="2.6" rx="0.5" fill="#c4001e"/>
<rect x="222.00" y="363.10" width="2.6" height="2.6" rx="0.5" fill="#c4001e"/>
<rect x="217.30" y="364.50" width="2.6" height="2.6" rx="0.5" fill="#c4001e"/>
<rect x="214.80" y="372.90" width="2.6" height="2.6" rx="0.5" fill="#c4001e"/>
<rect x="220.00" y="371.90" width="2.6" height="2.6" rx="0.5" fill="#c4001e"/>
<rect x="214.80" y="381.00" width="2.6" height="2.6" rx="0.5" fill="#c4001e"/>
<rect x="220.00" y="378.70" width="2.6" height="2.6" rx="0.5" fill="#c4001e"/>
<rect x="235.60" y="359.30" width="2.6" height="2.6" rx="0.5" fill="#083b78"/>
<rect x="240.40" y="360.70" width="2.6" height="2.6" rx="0.5" fill="#083b78"/>
<rect x="240.40" y="364.50" width="2.6" height="2.6" rx="0.5" fill="#083b78"/>
<rect x="235.60" y="370.60" width="2.6" height="2.6" rx="0.5" fill="#083b78"/>
<rect x="240.40" y="371.30" width="2.6" height="2.6" rx="0.5" fill="#083b78"/>
<rect x="245.10" y="371.30" width="2.6" height="2.6" rx="0.5" fill="#083b78"/>
<rect x="240.10" y="373.70" width="2.6" height="2.6" rx="0.5" fill="#083b78"/>
<rect x="240.40" y="379.70" width="2.6" height="2.6" rx="0.5" fill="#083b78"/>
<rect x="240.40" y="384.60" width="2.6" height="2.6" rx="0.5" fill="#083b78"/>
<path d="M214.80 354.2H222.80M218.80 354.2V365.8M214.80 365.8H222.80" stroke="#cc1f40" stroke-width="1.15" fill="none"/>
<path d="M237.90 369.2H245.90M241.90 369.2V375.5M237.90 375.5H245.90" stroke="#164a86" stroke-width="1.15" fill="none"/>
<path d="M203.7 317.1V396.4H256.6" stroke="#000" stroke-width="1.1" fill="none"/>
<path d="M200.2 396.40H203.7" stroke="#000" stroke-width="1"/>
<text x="197.7" y="399.30" text-anchor="end" class="tk">0</text>
<path d="M200.2 369.97H203.7" stroke="#000" stroke-width="1"/>
<text x="197.7" y="372.87" text-anchor="end" class="tk">1</text>
<path d="M200.2 343.53H203.7" stroke="#000" stroke-width="1"/>
<text x="197.7" y="346.43" text-anchor="end" class="tk">2</text>
<path d="M200.2 317.10H203.7" stroke="#000" stroke-width="1"/>
<text x="197.7" y="320.00" text-anchor="end" class="tk">3</text>
<path d="M218.80 396.4V399.4" stroke="#000" stroke-width="1"/>
<path d="M241.90 396.4V399.4" stroke="#000" stroke-width="1"/>
<text x="218.80" y="408.30" text-anchor="middle" class="xl" textLength="23.5" lengthAdjust="spacingAndGlyphs">GVHD</text>
<text x="241.90" y="408.30" text-anchor="middle" class="xl" textLength="16" lengthAdjust="spacingAndGlyphs">TCD</text>
<path d="M219.9 325.4H240.4" stroke="#2a2a2a" stroke-width="1.3"/>
<text x="230.15" y="322.40" text-anchor="middle" class="pv">p = 0.09</text>
<text transform="translate(187 413.5) rotate(-90)" class="yl"><tspan textLength="94" lengthAdjust="spacingAndGlyphs">Fold change of  TCD mean (2</tspan><tspan class="sup" dx="0.8" dy="-3.3" textLength="16.5" lengthAdjust="spacingAndGlyphs">-ΔΔCT</tspan><tspan dy="3.3">)</tspan></text>
<rect x="338.4" y="363.3" width="15.40" height="33.10" fill="#e38a9c" stroke="#dc7890" stroke-width="0.5"/>
<rect x="362" y="381.9" width="15.30" height="14.50" fill="#80a1c2" stroke="#7193b9" stroke-width="0.5"/>
<rect x="344.80" y="322.90" width="2.6" height="2.6" rx="0.5" fill="#c4001e"/>
<rect x="344.80" y="327.40" width="2.6" height="2.6" rx="0.5" fill="#c4001e"/>
<rect x="339.90" y="355.00" width="2.6" height="2.6" rx="0.5" fill="#c4001e"/>
<rect x="344.80" y="356.10" width="2.6" height="2.6" rx="0.5" fill="#c4001e"/>
<rect x="349.80" y="356.10" width="2.6" height="2.6" rx="0.5" fill="#c4001e"/>
<rect x="344.80" y="372.90" width="2.6" height="2.6" rx="0.5" fill="#c4001e"/>
<rect x="342.10" y="379.10" width="2.6" height="2.6" rx="0.5" fill="#c4001e"/>
<rect x="347.30" y="377.90" width="2.6" height="2.6" rx="0.5" fill="#c4001e"/>
<rect x="344.80" y="386.20" width="2.6" height="2.6" rx="0.5" fill="#c4001e"/>
<rect x="344.80" y="390.30" width="2.6" height="2.6" rx="0.5" fill="#c4001e"/>
<rect x="363.20" y="375.40" width="2.6" height="2.6" rx="0.5" fill="#083b78"/>
<rect x="368.10" y="373.90" width="2.6" height="2.6" rx="0.5" fill="#083b78"/>
<rect x="373.00" y="373.90" width="2.6" height="2.6" rx="0.5" fill="#083b78"/>
<rect x="362.90" y="380.90" width="2.6" height="2.6" rx="0.5" fill="#083b78"/>
<rect x="368.10" y="379.40" width="2.6" height="2.6" rx="0.5" fill="#083b78"/>
<rect x="373.00" y="379.10" width="2.6" height="2.6" rx="0.5" fill="#083b78"/>
<rect x="368.10" y="381.80" width="2.6" height="2.6" rx="0.5" fill="#083b78"/>
<rect x="368.10" y="386.50" width="2.6" height="2.6" rx="0.5" fill="#083b78"/>
<rect x="368.10" y="390.30" width="2.6" height="2.6" rx="0.5" fill="#083b78"/>
<path d="M342.10 356.3H350.10M346.10 356.3V371.2M342.10 371.2H350.10" stroke="#cc1f40" stroke-width="1.15" fill="none"/>
<path d="M365.65 379.2H373.65M369.65 379.2V383.6M365.65 383.6H373.65" stroke="#164a86" stroke-width="1.15" fill="none"/>
<path d="M330.7 315.1V396.4H383.9" stroke="#000" stroke-width="1.1" fill="none"/>
<path d="M327.2 396.40H330.7" stroke="#000" stroke-width="1"/>
<text x="324.7" y="399.30" text-anchor="end" class="tk">0</text>
<path d="M327.2 369.30H330.7" stroke="#000" stroke-width="1"/>
<text x="324.7" y="372.20" text-anchor="end" class="tk">2</text>
<path d="M327.2 342.20H330.7" stroke="#000" stroke-width="1"/>
<text x="324.7" y="345.10" text-anchor="end" class="tk">4</text>
<path d="M327.2 315.10H330.7" stroke="#000" stroke-width="1"/>
<text x="324.7" y="318.00" text-anchor="end" class="tk">6</text>
<path d="M346.10 396.4V399.4" stroke="#000" stroke-width="1"/>
<path d="M369.65 396.4V399.4" stroke="#000" stroke-width="1"/>
<text x="346.10" y="408.30" text-anchor="middle" class="xl" textLength="23.5" lengthAdjust="spacingAndGlyphs">GVHD</text>
<text x="369.65" y="408.30" text-anchor="middle" class="xl" textLength="16" lengthAdjust="spacingAndGlyphs">TCD</text>
<path d="M346.3 318.8H368.7" stroke="#2a2a2a" stroke-width="1.3"/>
<polygon points="357.50,313.05 358.03,314.07 359.16,314.26 358.36,315.08 358.53,316.22 357.50,315.70 356.47,316.22 356.64,315.08 355.84,314.26 356.97,314.07" fill="#1a1a1a"/>
<text transform="translate(314.2 413.5) rotate(-90)" class="yl"><tspan textLength="94" lengthAdjust="spacingAndGlyphs">Fold change of  TCD mean (2</tspan><tspan class="sup" dx="0.8" dy="-3.3" textLength="16.5" lengthAdjust="spacingAndGlyphs">-ΔΔCT</tspan><tspan dy="3.3">)</tspan></text>
<rect x="465.2" y="374.8" width="15.30" height="21.60" fill="#e38a9c" stroke="#dc7890" stroke-width="0.5"/>
<rect x="488.5" y="387.8" width="15.30" height="8.60" fill="#80a1c2" stroke="#7193b9" stroke-width="0.5"/>
<rect x="471.80" y="327.10" width="2.6" height="2.6" rx="0.5" fill="#c4001e"/>
<rect x="471.80" y="359.30" width="2.6" height="2.6" rx="0.5" fill="#c4001e"/>
<rect x="469.10" y="368.70" width="2.6" height="2.6" rx="0.5" fill="#c4001e"/>
<rect x="474.00" y="368.70" width="2.6" height="2.6" rx="0.5" fill="#c4001e"/>
<rect x="469.10" y="380.60" width="2.6" height="2.6" rx="0.5" fill="#c4001e"/>
<rect x="474.00" y="380.60" width="2.6" height="2.6" rx="0.5" fill="#c4001e"/>
<rect x="471.80" y="383.60" width="2.6" height="2.6" rx="0.5" fill="#c4001e"/>
<rect x="471.80" y="386.50" width="2.6" height="2.6" rx="0.5" fill="#c4001e"/>
<rect x="466.90" y="389.50" width="2.6" height="2.6" rx="0.5" fill="#c4001e"/>
<rect x="476.50" y="388.50" width="2.6" height="2.6" rx="0.5" fill="#c4001e"/>
<rect x="492.10" y="377.30" width="2.6" height="2.6" rx="0.5" fill="#083b78"/>
<rect x="496.60" y="375.80" width="2.6" height="2.6" rx="0.5" fill="#083b78"/>
<rect x="492.10" y="381.30" width="2.6" height="2.6" rx="0.5" fill="#083b78"/>
<rect x="496.60" y="381.80" width="2.6" height="2.6" rx="0.5" fill="#083b78"/>
<rect x="492.10" y="388.70" width="2.6" height="2.6" rx="0.5" fill="#083b78"/>
<rect x="496.60" y="389.50" width="2.6" height="2.6" rx="0.5" fill="#083b78"/>
<rect x="488.10" y="391.70" width="2.6" height="2.6" rx="0.5" fill="#083b78"/>
<rect x="492.60" y="393.20" width="2.6" height="2.6" rx="0.5" fill="#083b78"/>
<rect x="496.60" y="393.20" width="2.6" height="2.6" rx="0.5" fill="#083b78"/>
<rect x="501.00" y="392.80" width="2.6" height="2.6" rx="0.5" fill="#083b78"/>
<path d="M468.85 368.5H476.85M472.85 368.5V381.9M468.85 381.9H476.85" stroke="#cc1f40" stroke-width="1.15" fill="none"/>
<path d="M492.15 386.4H500.15M496.15 386.4V390M492.15 390H500.15" stroke="#164a86" stroke-width="1.15" fill="none"/>
<path d="M457.5 316.2V396.4H512.3" stroke="#000" stroke-width="1.1" fill="none"/>
<path d="M454.0 396.40H457.5" stroke="#000" stroke-width="1"/>
<text x="451.5" y="399.30" text-anchor="end" class="tk">0</text>
<path d="M454.0 369.67H457.5" stroke="#000" stroke-width="1"/>
<text x="451.5" y="372.57" text-anchor="end" class="tk">5</text>
<path d="M454.0 342.93H457.5" stroke="#000" stroke-width="1"/>
<text x="451.5" y="345.83" text-anchor="end" class="tk">10</text>
<path d="M454.0 316.20H457.5" stroke="#000" stroke-width="1"/>
<text x="451.5" y="319.10" text-anchor="end" class="tk">15</text>
<path d="M472.85 396.4V399.4" stroke="#000" stroke-width="1"/>
<path d="M496.15 396.4V399.4" stroke="#000" stroke-width="1"/>
<text x="472.85" y="408.30" text-anchor="middle" class="xl" textLength="23.5" lengthAdjust="spacingAndGlyphs">GVHD</text>
<text x="496.15" y="408.30" text-anchor="middle" class="xl" textLength="16" lengthAdjust="spacingAndGlyphs">TCD</text>
<path d="M474 324.5H496.4" stroke="#2a2a2a" stroke-width="1.3"/>
<polygon points="485.20,318.75 485.73,319.77 486.86,319.96 486.06,320.78 486.23,321.92 485.20,321.40 484.17,321.92 484.34,320.78 483.54,319.96 484.67,319.77" fill="#1a1a1a"/>
<text transform="translate(441.4 413.5) rotate(-90)" class="yl"><tspan textLength="94" lengthAdjust="spacingAndGlyphs">Fold change of  TCD mean (2</tspan><tspan class="sup" dx="0.8" dy="-3.3" textLength="16.5" lengthAdjust="spacingAndGlyphs">-ΔΔCT</tspan><tspan dy="3.3">)</tspan></text>
<rect x="85.2" y="484.5" width="15.60" height="44.80" fill="#e38a9c" stroke="#dc7890" stroke-width="0.5"/>
<rect x="108.2" y="518.4" width="15.60" height="10.90" fill="#80a1c2" stroke="#7193b9" stroke-width="0.5"/>
<rect x="91.80" y="461.30" width="2.6" height="2.6" rx="0.5" fill="#c4001e"/>
<rect x="91.80" y="467.30" width="2.6" height="2.6" rx="0.5" fill="#c4001e"/>
<rect x="91.80" y="479.60" width="2.6" height="2.6" rx="0.5" fill="#c4001e"/>
<rect x="91.80" y="483.60" width="2.6" height="2.6" rx="0.5" fill="#c4001e"/>
<rect x="91.80" y="496.20" width="2.6" height="2.6" rx="0.5" fill="#c4001e"/>
<rect x="91.80" y="513.30" width="2.6" height="2.6" rx="0.5" fill="#c4001e"/>
<rect x="114.80" y="500.70" width="2.6" height="2.6" rx="0.5" fill="#083b78"/>
<rect x="114.80" y="511.90" width="2.6" height="2.6" rx="0.5" fill="#083b78"/>
<rect x="114.80" y="518.80" width="2.6" height="2.6" rx="0.5" fill="#083b78"/>
<rect x="112.60" y="526.70" width="2.6" height="2.6" rx="0.5" fill="#083b78"/>
<rect x="117.60" y="526.30" width="2.6" height="2.6" rx="0.5" fill="#083b78"/>
<path d="M89.00 476.7H97.00M93.00 476.7V492.3M89.00 492.3H97.00" stroke="#cc1f40" stroke-width="1.15" fill="none"/>
<path d="M112.00 513.2H120.00M116.00 513.2V523.1M112.00 523.1H120.00" stroke="#164a86" stroke-width="1.15" fill="none"/>
<path d="M77.5 449.1V529.3H131.6" stroke="#000" stroke-width="1.1" fill="none"/>
<path d="M74.0 529.30H77.5" stroke="#000" stroke-width="1"/>
<text x="71.5" y="532.20" text-anchor="end" class="tk">0</text>
<path d="M74.0 509.25H77.5" stroke="#000" stroke-width="1"/>
<text x="71.5" y="512.15" text-anchor="end" class="tk">2</text>
<path d="M74.0 489.20H77.5" stroke="#000" stroke-width="1"/>
<text x="71.5" y="492.10" text-anchor="end" class="tk">4</text>
<path d="M74.0 469.15H77.5" stroke="#000" stroke-width="1"/>
<text x="71.5" y="472.05" text-anchor="end" class="tk">6</text>
<path d="M74.0 449.10H77.5" stroke="#000" stroke-width="1"/>
<text x="71.5" y="452.00" text-anchor="end" class="tk">8</text>
<path d="M93.00 529.3V532.3" stroke="#000" stroke-width="1"/>
<path d="M116.00 529.3V532.3" stroke="#000" stroke-width="1"/>
<text x="93.00" y="541.20" text-anchor="middle" class="xl" textLength="23.5" lengthAdjust="spacingAndGlyphs">GVHD</text>
<text x="116.00" y="541.20" text-anchor="middle" class="xl" textLength="16" lengthAdjust="spacingAndGlyphs">TCD</text>
<path d="M92.9 457.5H117.6" stroke="#2a2a2a" stroke-width="1.3"/>
<polygon points="103.38,451.75 103.90,452.77 105.04,452.96 104.23,453.78 104.40,454.92 103.38,454.40 102.35,454.92 102.52,453.78 101.71,452.96 102.85,452.77" fill="#1a1a1a"/>
<polygon points="107.12,451.75 107.65,452.77 108.79,452.96 107.98,453.78 108.15,454.92 107.12,454.40 106.10,454.92 106.27,453.78 105.46,452.96 106.60,452.77" fill="#1a1a1a"/>
<text transform="translate(60.9 545.5) rotate(-90)" class="yl"><tspan textLength="94" lengthAdjust="spacingAndGlyphs">Fold change of  TCD mean (2</tspan><tspan class="sup" dx="0.8" dy="-3.3" textLength="16.5" lengthAdjust="spacingAndGlyphs">-ΔΔCT</tspan><tspan dy="3.3">)</tspan></text>
<rect x="210.9" y="501.4" width="15.20" height="27.90" fill="#e38a9c" stroke="#dc7890" stroke-width="0.5"/>
<rect x="233.6" y="509.7" width="15.60" height="19.60" fill="#80a1c2" stroke="#7193b9" stroke-width="0.5"/>
<rect x="217.50" y="491.90" width="2.6" height="2.6" rx="0.5" fill="#c4001e"/>
<rect x="215.00" y="496.50" width="2.6" height="2.6" rx="0.5" fill="#c4001e"/>
<rect x="219.90" y="496.50" width="2.6" height="2.6" rx="0.5" fill="#c4001e"/>
<rect x="215.00" y="501.20" width="2.6" height="2.6" rx="0.5" fill="#c4001e"/>
<rect x="219.90" y="503.50" width="2.6" height="2.6" rx="0.5" fill="#c4001e"/>
<rect x="217.50" y="514.20" width="2.6" height="2.6" rx="0.5" fill="#c4001e"/>
<rect x="239.90" y="469.30" width="2.6" height="2.6" rx="0.5" fill="#083b78"/>
<rect x="240.40" y="504.10" width="2.6" height="2.6" rx="0.5" fill="#083b78"/>
<rect x="242.10" y="512.50" width="2.6" height="2.6" rx="0.5" fill="#083b78"/>
<rect x="237.80" y="514.60" width="2.6" height="2.6" rx="0.5" fill="#083b78"/>
<rect x="240.40" y="523.30" width="2.6" height="2.6" rx="0.5" fill="#083b78"/>
<rect x="240.40" y="526.70" width="2.6" height="2.6" rx="0.5" fill="#083b78"/>
<path d="M214.50 498.3H222.50M218.50 498.3V505M214.50 505H222.50" stroke="#cc1f40" stroke-width="1.15" fill="none"/>
<path d="M237.40 501.4H245.40M241.40 501.4V518.1M237.40 518.1H245.40" stroke="#164a86" stroke-width="1.15" fill="none"/>
<path d="M203.7 449.4V529.3H256.6" stroke="#000" stroke-width="1.1" fill="none"/>
<path d="M200.2 529.30H203.7" stroke="#000" stroke-width="1"/>
<text x="197.7" y="532.20" text-anchor="end" class="tk">0</text>
<path d="M200.2 509.32H203.7" stroke="#000" stroke-width="1"/>
<text x="197.7" y="512.22" text-anchor="end" class="tk">2</text>
<path d="M200.2 489.35H203.7" stroke="#000" stroke-width="1"/>
<text x="197.7" y="492.25" text-anchor="end" class="tk">4</text>
<path d="M200.2 469.38H203.7" stroke="#000" stroke-width="1"/>
<text x="197.7" y="472.27" text-anchor="end" class="tk">6</text>
<path d="M200.2 449.40H203.7" stroke="#000" stroke-width="1"/>
<text x="197.7" y="452.30" text-anchor="end" class="tk">8</text>
<path d="M218.50 529.3V532.3" stroke="#000" stroke-width="1"/>
<path d="M241.40 529.3V532.3" stroke="#000" stroke-width="1"/>
<text x="218.50" y="541.20" text-anchor="middle" class="xl" textLength="23.5" lengthAdjust="spacingAndGlyphs">GVHD</text>
<text x="241.40" y="541.20" text-anchor="middle" class="xl" textLength="16" lengthAdjust="spacingAndGlyphs">TCD</text>
<text transform="translate(186.8 545.5) rotate(-90)" class="yl"><tspan textLength="94" lengthAdjust="spacingAndGlyphs">Fold change of  TCD mean (2</tspan><tspan class="sup" dx="0.8" dy="-3.3" textLength="16.5" lengthAdjust="spacingAndGlyphs">-ΔΔCT</tspan><tspan dy="3.3">)</tspan></text>
<rect x="337.6" y="510.6" width="15.30" height="17.20" fill="#e38a9c" stroke="#dc7890" stroke-width="0.5"/>
<rect x="360.1" y="506.8" width="15.40" height="21.00" fill="#80a1c2" stroke="#7193b9" stroke-width="0.5"/>
<rect x="344.00" y="504.50" width="2.6" height="2.6" rx="0.5" fill="#c4001e"/>
<rect x="341.60" y="508.10" width="2.6" height="2.6" rx="0.5" fill="#c4001e"/>
<rect x="346.20" y="508.10" width="2.6" height="2.6" rx="0.5" fill="#c4001e"/>
<rect x="338.90" y="511.30" width="2.6" height="2.6" rx="0.5" fill="#c4001e"/>
<rect x="344.00" y="510.30" width="2.6" height="2.6" rx="0.5" fill="#c4001e"/>
<rect x="348.80" y="511.30" width="2.6" height="2.6" rx="0.5" fill="#c4001e"/>
<rect x="366.20" y="457.70" width="2.6" height="2.6" rx="0.5" fill="#083b78"/>
<rect x="363.90" y="508.40" width="2.6" height="2.6" rx="0.5" fill="#083b78"/>
<rect x="368.70" y="508.80" width="2.6" height="2.6" rx="0.5" fill="#083b78"/>
<rect x="366.50" y="511.70" width="2.6" height="2.6" rx="0.5" fill="#083b78"/>
<rect x="366.50" y="518.70" width="2.6" height="2.6" rx="0.5" fill="#083b78"/>
<rect x="366.50" y="525.50" width="2.6" height="2.6" rx="0.5" fill="#083b78"/>
<path d="M341.25 508.3H349.25M345.25 508.3V512.3M341.25 512.3H349.25" stroke="#cc1f40" stroke-width="1.15" fill="none"/>
<path d="M363.80 496.4H371.80M367.80 496.4V516.4M363.80 516.4H371.80" stroke="#164a86" stroke-width="1.15" fill="none"/>
<path d="M330.5 449.8V527.8H383.2" stroke="#000" stroke-width="1.1" fill="none"/>
<path d="M327.0 527.80H330.5" stroke="#000" stroke-width="1"/>
<text x="324.5" y="530.70" text-anchor="end" class="tk">0.0</text>
<path d="M327.0 508.30H330.5" stroke="#000" stroke-width="1"/>
<text x="324.5" y="511.20" text-anchor="end" class="tk">0.1</text>
<path d="M327.0 488.80H330.5" stroke="#000" stroke-width="1"/>
<text x="324.5" y="491.70" text-anchor="end" class="tk">0.2</text>
<path d="M327.0 469.30H330.5" stroke="#000" stroke-width="1"/>
<text x="324.5" y="472.20" text-anchor="end" class="tk">0.3</text>
<path d="M327.0 449.80H330.5" stroke="#000" stroke-width="1"/>
<text x="324.5" y="452.70" text-anchor="end" class="tk">0.4</text>
<path d="M345.25 527.8V530.8" stroke="#000" stroke-width="1"/>
<path d="M367.80 527.8V530.8" stroke="#000" stroke-width="1"/>
<text x="345.25" y="539.70" text-anchor="middle" class="xl" textLength="23.5" lengthAdjust="spacingAndGlyphs">GVHD</text>
<text x="367.80" y="539.70" text-anchor="middle" class="xl" textLength="16" lengthAdjust="spacingAndGlyphs">TCD</text>
<text transform="translate(307.7 545.5) rotate(-90)" class="yl"><tspan textLength="94" lengthAdjust="spacingAndGlyphs">Fold change of  TCD mean (2</tspan><tspan class="sup" dx="0.8" dy="-3.3" textLength="16.5" lengthAdjust="spacingAndGlyphs">-ΔΔCT</tspan><tspan dy="3.3">)</tspan></text>
<rect x="464.9" y="503.9" width="15.30" height="23.60" fill="#e38a9c" stroke="#dc7890" stroke-width="0.5"/>
<rect x="487" y="502.2" width="15.00" height="25.30" fill="#80a1c2" stroke="#7193b9" stroke-width="0.5"/>
<rect x="471.00" y="480.30" width="2.6" height="2.6" rx="0.5" fill="#c4001e"/>
<rect x="471.00" y="490.70" width="2.6" height="2.6" rx="0.5" fill="#c4001e"/>
<rect x="471.00" y="502.30" width="2.6" height="2.6" rx="0.5" fill="#c4001e"/>
<rect x="471.00" y="511.70" width="2.6" height="2.6" rx="0.5" fill="#c4001e"/>
<rect x="468.60" y="515.10" width="2.6" height="2.6" rx="0.5" fill="#c4001e"/>
<rect x="473.50" y="514.20" width="2.6" height="2.6" rx="0.5" fill="#c4001e"/>
<rect x="493.20" y="453.80" width="2.6" height="2.6" rx="0.5" fill="#083b78"/>
<rect x="493.20" y="500.60" width="2.6" height="2.6" rx="0.5" fill="#083b78"/>
<rect x="493.20" y="509.60" width="2.6" height="2.6" rx="0.5" fill="#083b78"/>
<rect x="493.20" y="521.20" width="2.6" height="2.6" rx="0.5" fill="#083b78"/>
<rect x="493.20" y="524.80" width="2.6" height="2.6" rx="0.5" fill="#083b78"/>
<path d="M468.55 497.5H476.55M472.55 497.5V509.1M468.55 509.1H476.55" stroke="#cc1f40" stroke-width="1.15" fill="none"/>
<path d="M490.50 492.3H498.50M494.50 492.3V513M490.50 513H498.50" stroke="#164a86" stroke-width="1.15" fill="none"/>
<path d="M457.5 450.1V527.5H512.8" stroke="#000" stroke-width="1.1" fill="none"/>
<path d="M454.0 527.50H457.5" stroke="#000" stroke-width="1"/>
<text x="451.5" y="530.40" text-anchor="end" class="tk">0</text>
<path d="M454.0 501.70H457.5" stroke="#000" stroke-width="1"/>
<text x="451.5" y="504.60" text-anchor="end" class="tk">2</text>
<path d="M454.0 475.90H457.5" stroke="#000" stroke-width="1"/>
<text x="451.5" y="478.80" text-anchor="end" class="tk">4</text>
<path d="M454.0 450.10H457.5" stroke="#000" stroke-width="1"/>
<text x="451.5" y="453.00" text-anchor="end" class="tk">6</text>
<path d="M472.55 527.5V530.5" stroke="#000" stroke-width="1"/>
<path d="M494.50 527.5V530.5" stroke="#000" stroke-width="1"/>
<text x="472.55" y="539.40" text-anchor="middle" class="xl" textLength="23.5" lengthAdjust="spacingAndGlyphs">GVHD</text>
<text x="494.50" y="539.40" text-anchor="middle" class="xl" textLength="16" lengthAdjust="spacingAndGlyphs">TCD</text>
<text transform="translate(440.9 545.5) rotate(-90)" class="yl"><tspan textLength="94" lengthAdjust="spacingAndGlyphs">Fold change of  TCD mean (2</tspan><tspan class="sup" dx="0.8" dy="-3.3" textLength="16.5" lengthAdjust="spacingAndGlyphs">-ΔΔCT</tspan><tspan dy="3.3">)</tspan></text>
</svg></body></html>
